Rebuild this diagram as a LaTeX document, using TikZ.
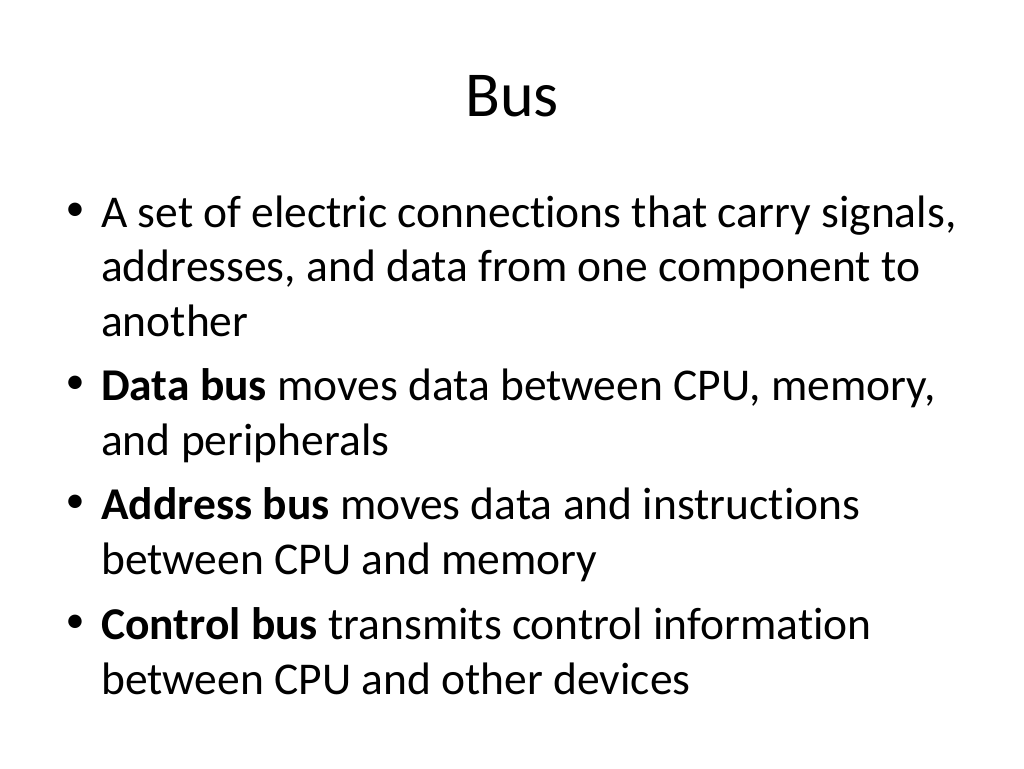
\documentclass[tikz,border=0pt]{standalone}
\usepackage{fontspec}
\setmainfont[Ligatures=NoCommon]{Carlito}
\begin{document}
\begin{tikzpicture}[x=1pt,y=-1pt,
    item/.style={anchor=base west,inner sep=0pt,align=left,
      font=\fontsize{45.5}{54.5}\selectfont},
    dot/.style={anchor=base,inner sep=0pt,font=\fontsize{38}{40}\selectfont}]
    % Slide area
    \useasboundingbox[fill=white] (0,0) rectangle (1024,768);

    % Title
    \node[anchor=base,inner sep=0pt,font=\fontsize{64}{70}\selectfont] (title) at (512,116) {Bus};

    % Bullets (text nodes sit on their last line)
    \node[dot] (b1) at (75,220) {•};
    \node[item] (t1) at (101,336) {A set of electric connections that carry signals,\\addresses, and data from one component to\\another};

    \node[dot] (b2) at (75,393.5) {•};
    \node[item] (t2) at (101,455) {\textbf{Data bus} moves data between CPU, memory,\\and peripherals};

    \node[dot] (b3) at (75,512.5) {•};
    \node[item] (t3) at (101,574) {\textbf{Address bus} moves data and instructions\\between CPU and memory};

    \node[dot] (b4) at (75,632.5) {•};
    \node[item] (t4) at (101,694) {\textbf{Control bus} transmits control information\\between CPU and other devices};
\end{tikzpicture}
\end{document}
